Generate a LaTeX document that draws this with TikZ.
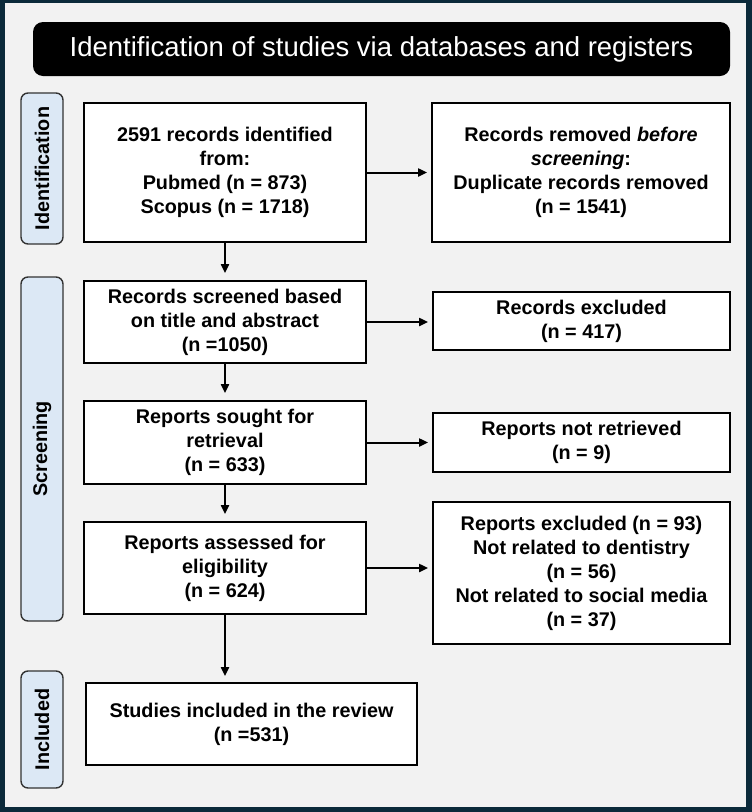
\documentclass[tikz,border=0pt]{standalone}
\usepackage{fontspec}
\setmainfont{Liberation Sans}
\usetikzlibrary{arrows.meta}
\definecolor{framecol}{HTML}{0B2A3A}
\definecolor{bgcol}{HTML}{F2F2F2}
\definecolor{labfill}{HTML}{DCE8F5}
\definecolor{labdraw}{HTML}{333333}
\tikzset{
  flowbox/.style={draw=black, line width=1.8pt, fill=white, align=center,
    inner sep=0pt, font=\fontsize{19.8}{24}\selectfont\bfseries},
  sidelab/.style={draw=labdraw, line width=1.4pt, fill=labfill, rounded corners=7pt,
    minimum width=42pt, inner sep=0pt},
  sidetext/.style={rotate=90, font=\fontsize{19.8}{24}\selectfont\bfseries},
  flowarrow/.style={-{Triangle[length=9pt,width=8pt]}, line width=2pt, shorten >=4pt},
}
\begin{document}
\begin{tikzpicture}[x=1pt,y=-1pt]
\useasboundingbox (0,0) rectangle (752,812);
\fill[framecol] (0,0) rectangle (752,812);
\fill[bgcol] (5,3) rectangle (746,807);
% header
\node[fill=black, rounded corners=10pt, minimum width=697pt, minimum height=54pt, inner sep=0pt,
  text=white, font=\fontsize{27.5}{30}\selectfont] (head) at (381.5,49)
  {Identification of studies via databases and registers};
% side labels
\node[sidelab, minimum height=151pt] (lid) at (42,168.5) {};
\node[sidetext] (lidt) at (lid.center) {Identification};
\node[sidelab, minimum height=344pt] (lsc) at (42,449) {};
\node[sidetext] (lsct) at (lsc.center) {Screening};
\node[sidelab, minimum height=117pt] (lin) at (42,729.5) {};
\node[sidetext] (lint) at (lin.center) {Included};
% boxes
\node[flowbox, minimum width=282pt, minimum height=139pt] (A) at (225,172.5)
  {2591 records identified\\ from:\\ Pubmed (n = 873)\\ Scopus (n = 1718)};
\node[flowbox, minimum width=298pt, minimum height=139pt] (B) at (581,172.5)
  {Records removed \textit{before}\\ \textit{screening}:\\ Duplicate records removed\\ (n = 1541)};
\node[flowbox, minimum width=282pt, minimum height=82pt] (C) at (225,322)
  {Records screened based\\ on title and abstract\\ (n =1050)};
\node[flowbox, minimum width=297pt, minimum height=58pt] (D) at (581.5,321)
  {Records excluded\\ (n = 417)};
\node[flowbox, minimum width=282pt, minimum height=83pt] (E) at (225,442.5)
  {Reports sought for\\ retrieval\\ (n = 633)};
\node[flowbox, minimum width=297pt, minimum height=59pt] (F) at (581.5,442.5)
  {Reports not retrieved\\ (n = 9)};
\node[flowbox, minimum width=282pt, minimum height=92pt] (G) at (225,568)
  {Reports assessed for\\ eligibility\\ (n = 624)};
\node[flowbox, minimum width=297pt, minimum height=142pt] (H) at (581.5,573)
  {Reports excluded (n = 93)\\ Not related to dentistry\\ (n = 56)\\ Not related to social media\\ (n = 37)};
\node[flowbox, minimum width=331pt, minimum height=82pt] (I) at (251.5,724)
  {Studies included in the review\\ (n =531)};
% arrows
\draw[flowarrow] (A.east) -- (A.east -| B.west);
\draw[flowarrow] (C.east) -- (C.east -| D.west);
\draw[flowarrow] (E.east) -- (E.east -| F.west);
\draw[flowarrow] (G.east) -- (G.east -| H.west);
\draw[flowarrow, shorten >=7pt] (A.south) -- (C.north);
\draw[flowarrow, shorten >=7pt] (C.south) -- (E.north);
\draw[flowarrow, shorten >=7pt] (E.south) -- (G.north);
\draw[flowarrow, shorten >=6pt] (G.south) -- (G.south |- I.north);
\end{tikzpicture}
\end{document}
